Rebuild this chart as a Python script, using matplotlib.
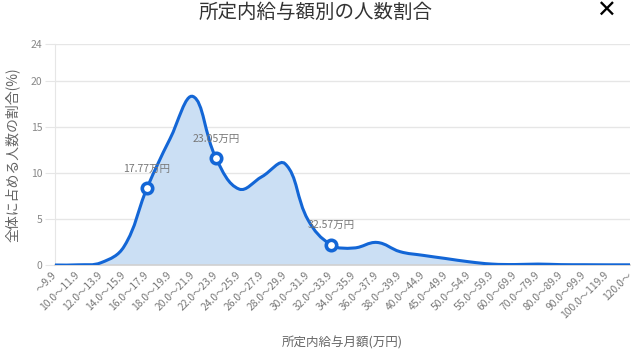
import matplotlib
matplotlib.use("Agg")
import matplotlib.pyplot as plt
from matplotlib.path import Path
from matplotlib.patches import PathPatch
from matplotlib.transforms import ScaledTranslation
import numpy as np

plt.rcParams['font.family'] = ['Noto Sans CJK JP', 'DejaVu Sans']

# salary bands (万円)
categories = ["〜9.9", "10.0〜11.9", "12.0〜13.9", "14.0〜15.9", "16.0〜17.9",
              "18.0〜19.9", "20.0〜21.9", "22.0〜23.9", "24.0〜25.9", "26.0〜27.9",
              "28.0〜29.9", "30.0〜31.9", "32.0〜33.9", "34.0〜35.9", "36.0〜37.9",
              "38.0〜39.9", "40.0〜44.9", "45.0〜49.9", "50.0〜54.9", "55.0〜59.9",
              "60.0〜69.9", "70.0〜79.9", "80.0〜89.9", "90.0〜99.9", "100.0〜119.9",
              "120.0〜"]
share = [0.0, 0.02, 0.25, 2.0, 8.35, 13.7, 18.3, 11.6, 8.25, 9.6,
         11.0, 4.9, 2.2, 1.85, 2.45, 1.45, 1.05, 0.7, 0.35, 0.1,
         0.05, 0.1, 0.04, 0.03, 0.02, 0.02]

# highlighted points (category index, label)
mark_idx = [4, 7, 12]
mark_text = ["17.77万円", "23.05万円", "32.57万円"]

y_ticks = [0, 5, 10, 15, 20, 24]

LINE = "#1366d6"
FILL = "#cbdff4"
GRID = "#e6e6e6"
TXT = "#666666"


def spline_path(ax, xs, ys, tension=0.4):
    """bezier curve through the points, control points like Chart.js"""
    pts = ax.transData.transform(np.column_stack([xs, ys]))
    n = len(pts)
    prev_cp = [None] * n
    next_cp = [None] * n
    for i in range(n):
        p0 = pts[max(i - 1, 0)]
        p1 = pts[i]
        p2 = pts[min(i + 1, n - 1)]
        d01 = np.hypot(*(p1 - p0))
        d12 = np.hypot(*(p2 - p1))
        tot = d01 + d12
        s01 = d01 / tot if tot else 0
        s12 = d12 / tot if tot else 0
        prev_cp[i] = p1 - tension * s01 * (p2 - p0)
        next_cp[i] = p1 + tension * s12 * (p2 - p0)
    verts = [pts[0]]
    codes = [Path.MOVETO]
    for i in range(n - 1):
        verts += [next_cp[i], prev_cp[i + 1], pts[i + 1]]
        codes += [Path.CURVE4] * 3
    inv = ax.transData.inverted()
    verts = inv.transform(np.array(verts))
    return verts, codes


fig = plt.figure(figsize=(6.32, 3.57), dpi=100)
ax = fig.add_axes([55 / 632, 1 - 265 / 357, 575 / 632, 221 / 357])
x = np.arange(len(categories))
ax.set_xlim(0, len(categories) - 1)
ax.set_ylim(0, 24)

verts, codes = spline_path(ax, x, share)
line_path = Path(verts, codes)
fill_verts = np.vstack([verts, [[x[-1], 0], [x[0], 0], verts[0]]])
fill_codes = codes + [Path.LINETO, Path.LINETO, Path.CLOSEPOLY]
ax.add_patch(PathPatch(Path(fill_verts, fill_codes), facecolor=FILL,
                       edgecolor="none", zorder=2))
ax.add_patch(PathPatch(line_path, facecolor="none", edgecolor=LINE,
                       lw=2.2, zorder=3, capstyle="round"))

for i, t in zip(mark_idx, mark_text):
    ax.plot(x[i], share[i], "o", ms=7.5, mfc="white", mec=LINE, mew=2.6,
            zorder=5)
    ax.annotate(t, (x[i], share[i]), xytext=(0, 10.5),
                textcoords="offset points", ha="center", va="bottom",
                fontsize=7.6, color="#777777", zorder=4)

ax.set_xticks(x)
ax.set_xticklabels(categories, rotation=45, ha="right", va="center",
                   rotation_mode="anchor", fontsize=7.4, color="#777777")
# nudge the rotated labels so their ends sit just below-left of the ticks
shift = ScaledTranslation(-3 / 100, -3 / 100, fig.dpi_scale_trans)
for lab in ax.get_xticklabels():
    lab.set_transform(lab.get_transform() + shift)
ax.set_yticks(y_ticks)
ax.set_yticklabels([str(v) for v in y_ticks], fontsize=7.5, color="#888888")
ax.tick_params(axis="x", length=0, pad=6)
ax.tick_params(axis="y", length=7, color=GRID, pad=2)
ax.grid(axis="y", color=GRID, lw=1, zorder=0)
ax.set_axisbelow(True)
for s in ["top", "right"]:
    ax.spines[s].set_visible(False)
ax.spines["left"].set_color(GRID)
ax.spines["bottom"].set_color("#d0d0d0")
ax.spines["bottom"].set_linewidth(1.2)

ax.set_ylabel("全体に占める人数の割合(%)", fontsize=10, color=TXT, labelpad=8)
ax.set_xlabel("所定内給与月額(万円)", fontsize=9, color=TXT, labelpad=11)

fig.text(316 / 632, 1 - 12 / 357, "所定内給与額別の人数割合", ha="center",
         va="center", fontsize=14, color="#333333")
fig.text(606 / 632, 1 - 11 / 357, "✕", ha="center", va="center",
         fontsize=17, color="black", fontweight="bold",
         family=["DejaVu Sans"])

fig.savefig("out.png", dpi=100)
